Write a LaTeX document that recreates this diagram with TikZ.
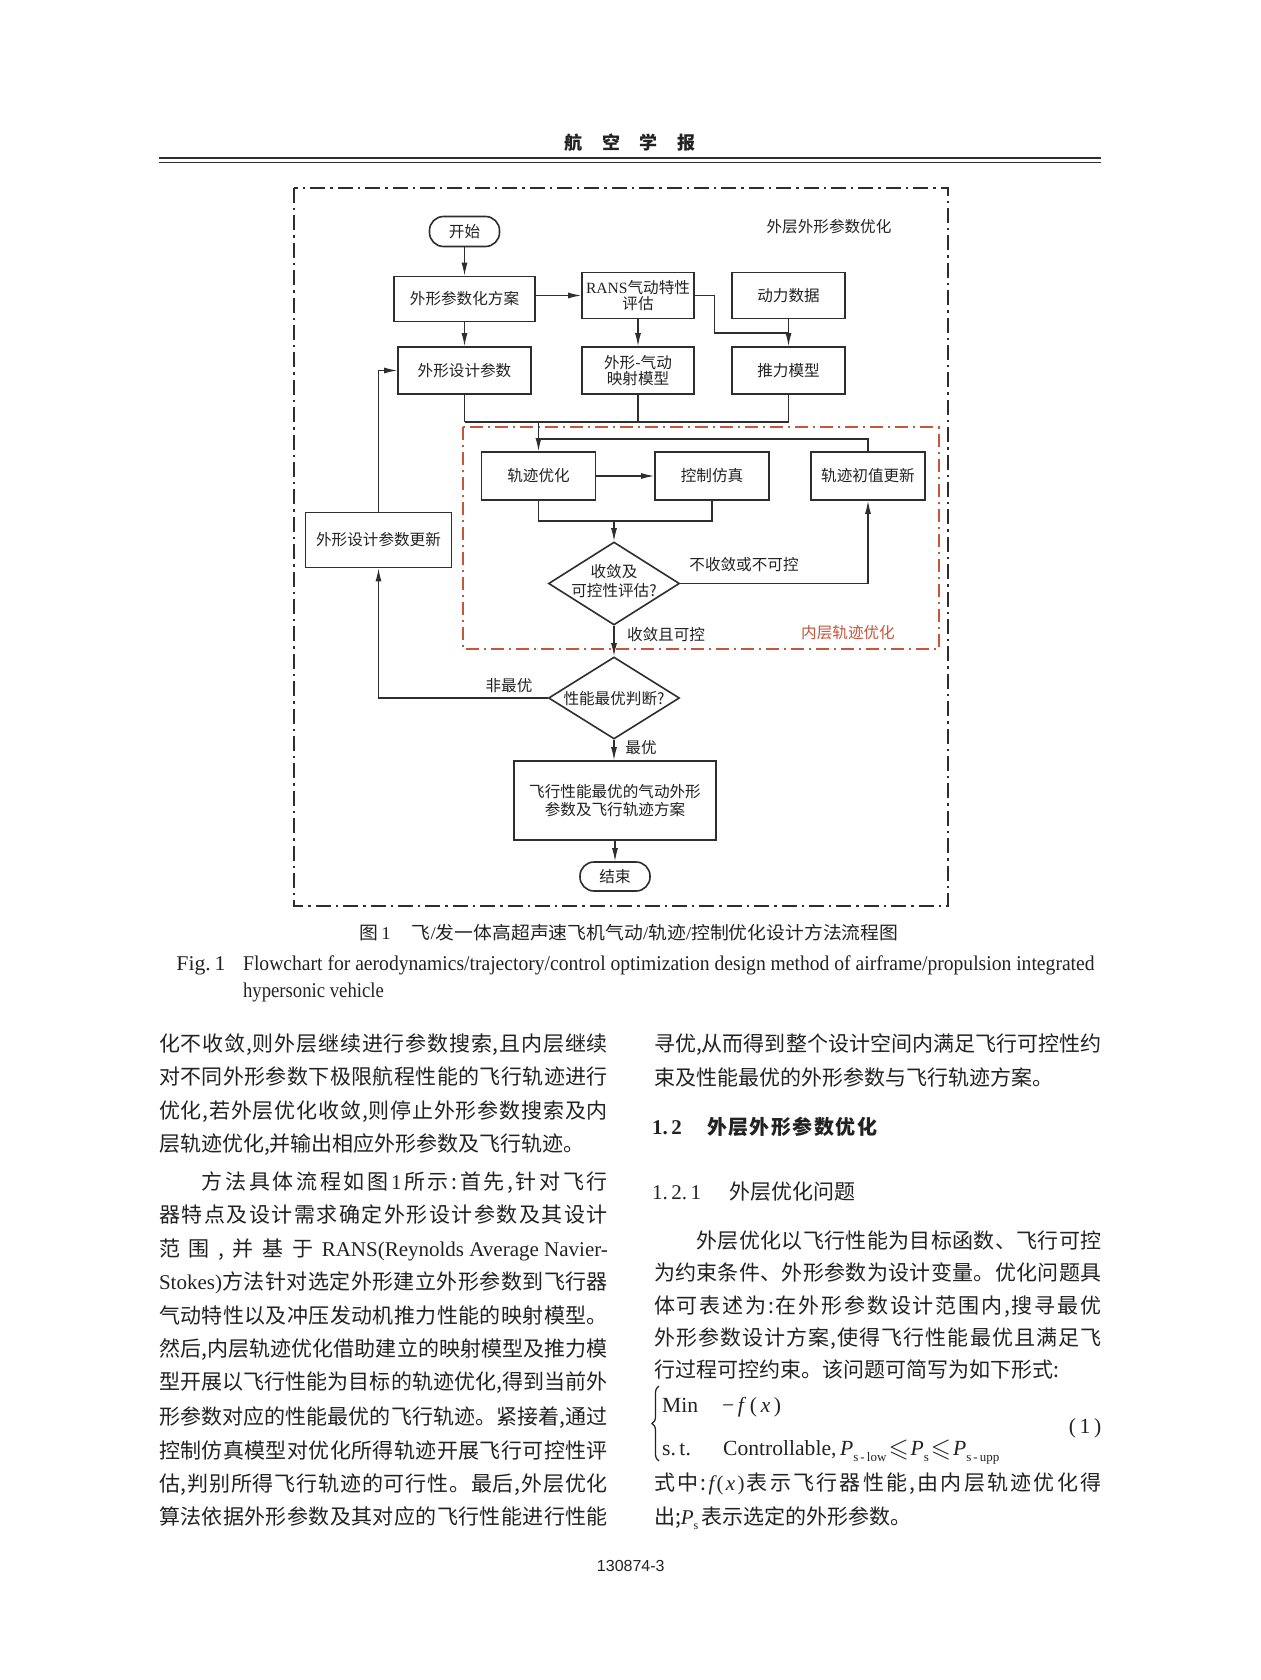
\documentclass[tikz,border=0pt]{standalone}
\usepackage{fontspec}
\usepackage{amssymb}
\usepackage{graphicx}
\setmainfont{Noto Sans CJK SC}
\newfontfamily\lat{Liberation Serif}
\newfontfamily\arialf{Liberation Sans}
\usetikzlibrary{shapes.geometric,arrows.meta,decorations.pathreplacing}
\definecolor{lc}{HTML}{2E2E2E}
\definecolor{tc}{HTML}{222222}
\definecolor{redc}{HTML}{C4563C}
\newcommand\fcfont{\fontsize{7.8}{8.4}\selectfont}
\newcommand\bodyfont{\fontsize{10.5}{12}\selectfont}
\makeatletter
\def\sprEndMark{\sprEnd}
\def\spr#1{\sprA#1\sprEnd}
\def\sprA#1#2{{#1}\def\sprtmp{#2}\ifx\sprtmp\sprEndMark\expandafter\@gobble\else\hskip0pt plus 1fil\relax\expandafter\sprA\fi{#2}}
\makeatother
\newcommand\jl[2]{\hbox to #1{\spr{#2}}}
\tikzset{
 box/.style={draw=lc,line width=0.8pt,fill=white,inner sep=0pt,font=\fcfont,text=tc,align=center},
 term/.style={box,rounded corners=7pt},
 dia/.style={draw=lc,line width=0.8pt,shape=diamond,inner sep=0pt},
 ln/.style={draw=lc,line width=0.6pt},
 arr/.style={ln,-{Latex[length=6.5pt,width=3pt]}},
 lab/.style={font=\fcfont,text=tc,inner sep=0pt},
 bt/.style={anchor=base west,inner sep=0pt,font=\bodyfont,text=tc},
 eqf/.style={bt,font=\lat\fontsize{10.8}{12}\selectfont},
}
\begin{document}
\begin{tikzpicture}[x=0.5pt,y=-0.5pt]
\useasboundingbox (0,0) rectangle (1260,1680);
\fill[white] (0,0) rectangle (1260,1680);

% header
\node[inner sep=0pt,font=\bfseries\fontsize{9}{9}\selectfont,text=tc] (hdr) at (630,143) {航\hskip9.75pt 空\hskip9.75pt 学\hskip9.75pt 报};
\draw[lc,line width=1pt] (158.6,158.5) -- (1101.4,158.5);
\draw[lc,line width=0.5pt] (158.6,163) -- (1101.4,163);

% frames
\draw[lc,line width=1.3pt,dash pattern=on 7.5pt off 2.5pt on 1.2pt off 2.5pt] (294,188) rectangle (948,906);
\draw[redc,line width=1pt,dash pattern=on 6.5pt off 2.5pt on 1pt off 2.5pt] (463,427) rectangle (938.5,649);
\node[lab] (lbOuter) at (829,226.5) {外层外形参数优化};
\node[lab,text=redc] (lbInner) at (848,633) {内层轨迹优化};

% nodes
\node[term,minimum width=35pt,minimum height=15pt] (start) at (464.5,231.5) {开始};
\node[box,minimum width=70.5pt,minimum height=22.5pt] (scheme) at (464.5,299) {外形参数化方案};
\node[box,minimum width=56pt,minimum height=23pt] (rans) at (638,295.5) {{\lat RANS}气动特性\\评估};
\node[box,minimum width=56.5pt,minimum height=23pt] (power) at (788.5,295.5) {动力数据};
\node[box,minimum width=66.5pt,minimum height=23.5pt] (dparam) at (464.5,370.5) {外形设计参数};
\node[box,minimum width=56pt,minimum height=23.5pt] (map) at (638,370.5) {外形-气动\\映射模型};
\node[box,minimum width=56.5pt,minimum height=23.5pt] (thrust) at (788.5,370.5) {推力模型};
\node[box,minimum width=57pt,minimum height=24pt] (topt) at (538.5,476) {轨迹优化};
\node[box,minimum width=57pt,minimum height=24pt] (ctrl) at (712,476) {控制仿真};
\node[box,minimum width=57pt,minimum height=24pt] (init) at (868,476) {轨迹初值更新};
\node[dia,minimum width=65.5pt,minimum height=41.5pt] (d1) at (614,583.5) {};
\node[lab,align=center,font=\fontsize{7.8}{9.3}\selectfont] (d1t) at (614,581) {收敛及\\可控性评估?};
\node[box,minimum width=73pt,minimum height=27.5pt] (update) at (378.5,540) {外形设计参数更新};
\node[dia,minimum width=65.5pt,minimum height=41pt] (d2) at (614,698) {};
\node[lab] (d2t) at (614,698.3) {性能最优判断?};
\node[box,minimum width=101pt,minimum height=39.5pt,font=\fontsize{7.8}{8.8}\selectfont] (result) at (615,800.5) {飞行性能最优的气动外形\\参数及飞行轨迹方案};
\node[term,minimum width=35pt,minimum height=14.5pt] (end) at (615,876.5) {结束};

% labels
\node[lab] (lbNo) at (744,565) {不收敛或不可控};
\node[lab] (lbYes) at (666,635) {收敛且可控};
\node[lab] (lbNonOpt) at (509,686) {非最优};
\node[lab] (lbOpt) at (641,747.5) {最优};

% connectors
\coordinate (j1) at (788.5,333);
\coordinate (m1) at (0,422);
\coordinate (r1) at (0,439);
\coordinate (jb) at (0,521);
\draw[arr] (start.south) -- (scheme.north);
\draw[arr] (scheme.east |- rans.west) -- (rans.west);
\draw[arr] (scheme.south) -- (dparam.north);
\draw[arr] (rans.south) -- (map.north);
\draw[arr] (power.south) -- (thrust.north);
\draw[ln] (rans.east) -- ++(20,0) |- (j1);
\draw[ln] (dparam.south) -- (dparam.south |- m1);
\draw[ln] (map.south) -- (map.south |- m1);
\draw[ln] (thrust.south) -- (thrust.south |- m1);
\draw[ln] (dparam.south |- m1) -- (thrust.south |- m1);
\draw[arr] (topt.north |- m1) -- (topt.north);
\draw[ln] (init.north) -- (init.north |- r1) -- (topt.north |- r1);
\draw[arr] (topt.east) -- (ctrl.west);
\draw[ln] (topt.south) -- (topt.south |- jb) -- (ctrl.south |- jb) -- (ctrl.south);
\draw[arr] (d1.north |- jb) -- (d1.north);
\draw[arr] (d1.east) -| (init.south);
\draw[arr] (d1.south) -- (d2.north);
\draw[arr] (d2.west) -| (update.south);
\draw[arr] (update.north) |- (dparam.west);
\draw[arr] (d2.south) -- (d2.south |- result.north);
\draw[arr] (result.south) -- (result.south |- end.north);

% captions
\node[anchor=base,inner sep=0pt,text=tc] (capcn) at (629,939.7) {\resizebox{269.5pt}{\height}{\fontsize{9}{9}\selectfont 图{\lat\,1}\hskip 10pt 飞{\lat /}发一体高超声速飞机气动{\lat /}轨迹{\lat /}控制优化设计方法流程图}};
\node[anchor=base west,inner sep=0pt,text=tc] (capfig) at (176,970) {\resizebox{24.5pt}{\height}{\lat\fontsize{10.5}{11}\selectfont Fig.\,1}};
\node[anchor=base west,inner sep=0pt,text=tc] (capen1) at (242.7,970) {\resizebox{425.7pt}{\height}{\lat\fontsize{10.5}{11}\selectfont Flowchart for aerodynamics/trajectory/control optimization design method of airframe/propulsion integrated}};
\node[anchor=base west,inner sep=0pt,text=tc] (capen2) at (242.7,997) {\resizebox{70.4pt}{\height}{\lat\fontsize{10.5}{11}\selectfont hypersonic vehicle}};

% left column
\node[bt] (L1) at (158.6,1051) {\jl{224.45pt}{化不收敛,则外层继续进行参数搜索,且内层继续}};
\node[bt] (L2) at (158.6,1084.5) {\jl{224.45pt}{对不同外形参数下极限航程性能的飞行轨迹进行}};
\node[bt] (L3) at (158.6,1118) {\jl{224.45pt}{优化,若外层优化收敛,则停止外形参数搜索及内}};
\node[bt] (L4) at (158.6,1151.5) {层轨迹优化,并输出相应外形参数及飞行轨迹。};
\node[bt] (L5) at (201.4,1189) {\jl{203pt}{方法具体流程如图{\lat 1}所示:首先,针对飞行}};
\node[bt] (L6) at (158.6,1222.7) {\jl{224.45pt}{器特点及设计需求确定外形设计参数及其设计}};
\node[bt] (L7) at (158.6,1256.2) {\jl{224.45pt}{范围,并基于{\lat RANS(Reynolds Average Navier-}}};
\node[bt] (L8) at (158.6,1289.7) {\jl{224.45pt}{{\lat Stokes)}方法针对选定外形建立外形参数到飞行器}};
\node[bt] (L9) at (158.6,1323) {\jl{224.45pt}{气动特性以及冲压发动机推力性能的映射模型。}};
\node[bt] (L10) at (158.6,1356.3) {\jl{224.45pt}{然后,内层轨迹优化借助建立的映射模型及推力模}};
\node[bt] (L11) at (158.6,1389.7) {\jl{224.45pt}{型开展以飞行性能为目标的轨迹优化,得到当前外}};
\node[bt] (L12) at (158.6,1424.7) {\jl{224.45pt}{形参数对应的性能最优的飞行轨迹。紧接着,通过}};
\node[bt] (L13) at (158.6,1458) {\jl{224.45pt}{控制仿真模型对优化所得轨迹开展飞行可控性评}};
\node[bt] (L14) at (158.6,1491.3) {\jl{224.45pt}{估,判别所得飞行轨迹的可行性。最后,外层优化}};
\node[bt] (L15) at (158.6,1524.7) {\jl{224.45pt}{算法依据外形参数及其对应的飞行性能进行性能}};

% right column
\node[bt] (R1) at (653.6,1051) {\jl{223.7pt}{寻优,从而得到整个设计空间内满足飞行可控性约}};
\node[bt] (R2) at (653.6,1085) {束及性能最优的外形参数与飞行轨迹方案。};
\node[bt,font=\lat\bfseries\fontsize{10.5}{12}\selectfont] (H1a) at (651.7,1134) {1.\,2};
\node[bt,font=\bfseries\fontsize{10}{12}\selectfont] (H1b) at (706.7,1134) {\jl{85pt}{外层外形参数优化}};
\node[bt,font=\lat\fontsize{10.5}{12}\selectfont] (H2a) at (651.7,1199) {1.\,2.\,1};
\node[bt] (H2b) at (729.3,1199) {外层优化问题};
\node[bt] (R5) at (696,1248) {\jl{202.5pt}{外层优化以飞行性能为目标函数、飞行可控}};
\node[bt] (R6) at (653.6,1280.7) {\jl{223.7pt}{为约束条件、外形参数为设计变量。优化问题具}};
\node[bt] (R7) at (653.6,1313) {\jl{223.7pt}{体可表述为:在外形参数设计范围内,搜寻最优}};
\node[bt] (R8) at (653.6,1345.3) {\jl{223.7pt}{外形参数设计方案,使得飞行性能最优且满足飞}};
\node[bt] (R9) at (653.6,1377.3) {行过程可控约束。该问题可简写为如下形式:};

% equation
\draw[tc,line width=0.6pt,decorate,decoration={brace,amplitude=3.5pt}] (659,1461) -- (659,1386);
\node[eqf] (eqmin) at (661.7,1412) {Min};
\node[eqf] (eqobj) at (721.7,1412) {−\,\textit{f}\,(\,\textit{x}\,)};
\node[eqf] (eqst) at (661.7,1455) {s.\,t.};
\node[eqf] (eqcon) at (722.7,1455) {Controllable,\,\textit{P}\raisebox{-3pt}{\fontsize{6.5}{7}\selectfont s\,-\,low}\hskip1pt\raisebox{-0.5pt}{\scalebox{1.2}{$\leqslant$}}\hskip1pt\textit{P}\raisebox{-3pt}{\fontsize{6.5}{7}\selectfont s}\hskip1pt\raisebox{-0.5pt}{\scalebox{1.2}{$\leqslant$}}\hskip1pt\textit{P}\raisebox{-3pt}{\fontsize{6.5}{7}\selectfont s\,-\,upp}};
\node[eqf,anchor=base east] (eqno) at (1101.7,1433) {(\,1\,)};

\node[bt] (R11) at (653.6,1490.7) {\jl{223.7pt}{式中:{\lat\itshape f}{\lat (}{\lat\itshape x}{\lat )}表示飞行器性能,由内层轨迹优化得}};
\node[bt] (R12) at (653.6,1524.7) {出;{\lat\itshape P}\raisebox{-2.5pt}{\lat\fontsize{6}{6}\selectfont s}\,表示选定的外形参数。};

% page number
\node[inner sep=0pt,font=\arialf\fontsize{8}{8}\selectfont,text=tc] (pg) at (630.8,1566) {130874-3};
\end{tikzpicture}
\end{document}
